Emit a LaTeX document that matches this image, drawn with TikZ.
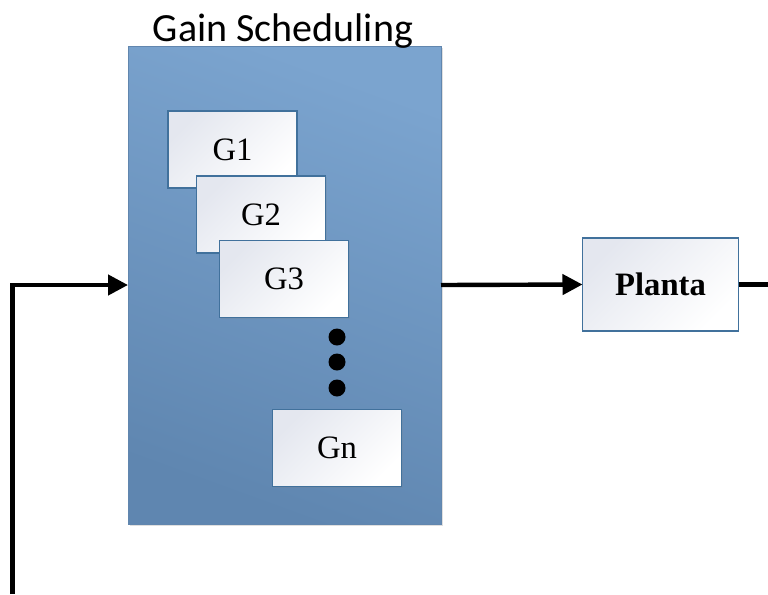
\documentclass[tikz,border=0pt]{standalone}
\usepackage{fontspec}
\setmainfont{Liberation Serif}
\newfontfamily\titlefont{Carlito}
\usetikzlibrary{arrows.meta,shadows}

\definecolor{gsTop}{HTML}{7BA4CF}
\definecolor{gsBot}{HTML}{5F86B0}
\definecolor{gsEdge}{HTML}{6186AE}
\definecolor{boxEdge}{HTML}{41719C}
\definecolor{boxTint}{HTML}{E4E7EF}

\tikzset{
  gsblock/.style={draw=gsEdge, line width=0.6pt, top color=gsTop, bottom color=gsBot,
    shading angle=-20, minimum width=234.75pt, minimum height=358.5pt,
    inner sep=0pt, outer sep=0pt,
    drop shadow={opacity=0.25, shadow xshift=1.5pt, shadow yshift=-1.5pt}},
  gainbox/.style={draw=boxEdge, line width=1.1pt, top color=boxTint, bottom color=white,
    shading angle=45, minimum width=96.75pt, minimum height=57.75pt,
    inner sep=0pt, outer sep=0pt, font=\fontsize{24.5}{28}\selectfont,
    drop shadow={opacity=0.2, shadow xshift=1pt, shadow yshift=-1pt}},
  plantbox/.style={draw=boxEdge, line width=1.1pt, top color=boxTint, bottom color=white,
    shading angle=45, minimum width=117pt, minimum height=69.75pt,
    inner sep=0pt, outer sep=0pt, font=\fontsize{24.5}{28}\selectfont\bfseries},
  dotmark/.style={circle, fill=black, minimum size=12.75pt, inner sep=0pt},
  titletext/.style={font=\titlefont\fontsize{30}{34}\selectfont, inner sep=0pt},
  signal/.style={line width=3.3pt, -{Triangle[length=15pt,width=15pt]}},
  plainsignal/.style={line width=3.3pt}
}

\begin{document}
\begin{tikzpicture}[x=0.75pt,y=-0.75pt]
  \useasboundingbox (0,0) rectangle (768,594);

  % scheduler block and its title
  \node[gsblock] (gs) at (284.5,285) {};
  \node[titletext, anchor=base] (ttl) at (283,41) {Gain Scheduling};

  % stacked gain blocks
  \node[gainbox] (g1) at (232.5,149.5) {G1};
  \node[gainbox] (g2) at (261,214.5) {G2};
  \node[gainbox] (g3) at (284,279) {G3};
  \node[dotmark] (d1) at (337,337) {};
  \node[dotmark] (d2) at (337,362) {};
  \node[dotmark] (d3) at (337,388) {};
  \node[gainbox] (gn) at (337,448) {Gn};

  % plant
  \node[plantbox] (planta) at (660.5,284.5) {Planta};

  % signal paths
  \coordinate (fb) at (12.5,594);
  \coordinate (out) at (768,284.5);
  \draw[signal] (fb) |- (gs.west);
  \draw[signal] (gs.east) -- (planta.west);
  \draw[plainsignal] (planta.east) -- (out);
\end{tikzpicture}
\end{document}
